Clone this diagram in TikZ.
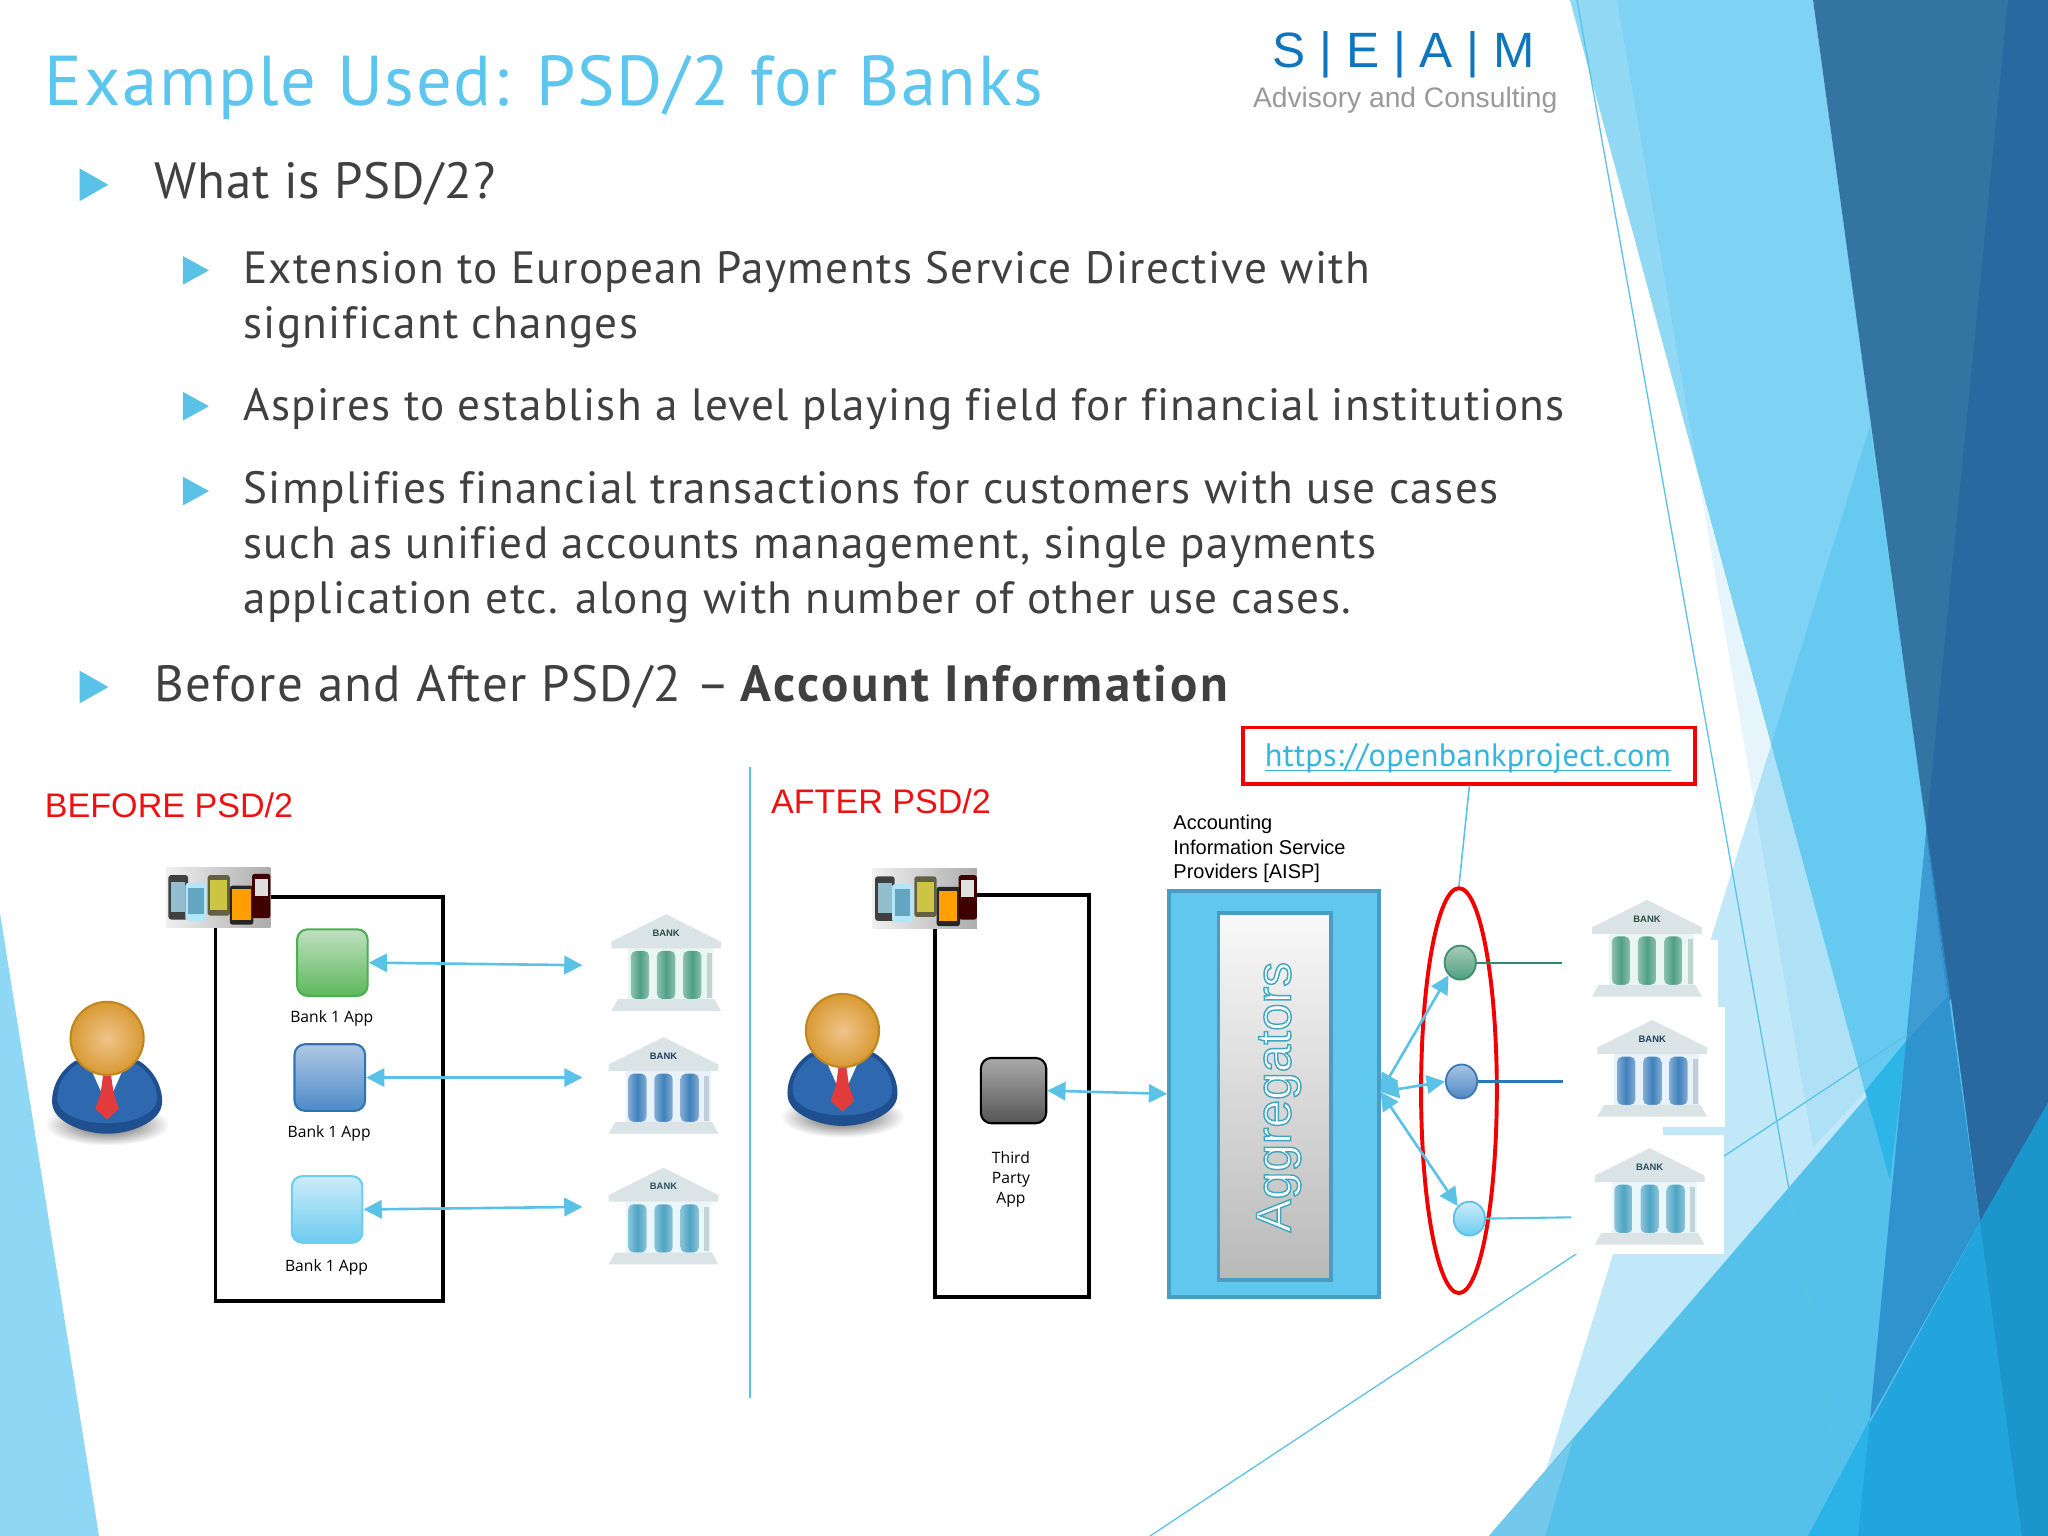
\documentclass[tikz,border=0pt]{standalone}
\usepackage{fontspec}
\usepackage{xcolor}
\usetikzlibrary{arrows.meta,shapes.geometric,calc}
\setmainfont[Ligatures=NoCommon]{PT Sans}
\newfontfamily\titlef[LetterSpace=2.5,Ligatures=NoCommon]{PT Sans}
\newfontfamily\bodyf[LetterSpace=2.95,Ligatures=NoCommon]{PT Sans}
\newfontfamily\headAf[LetterSpace=1.6,Ligatures=NoCommon]{PT Sans}
\newfontfamily\headBf[LetterSpace=2.6,Ligatures=NoCommon]{PT Sans}
\newfontfamily\headCf[LetterSpace=5.2,Ligatures=NoCommon]{PT Sans}
\newfontfamily\urlf[LetterSpace=0.9,Ligatures=NoCommon]{PT Sans}
\newfontfamily\arialf{Liberation Sans}
\newfontfamily\smallf{Open Sans}
\newcommand{\ulineurl}[1]{\setbox0=\hbox{#1}\rlap{\rule[-1.8pt]{\wd0}{0.6pt}}\box0 }
\definecolor{sky}{HTML}{5BC2E7}
\definecolor{titlec}{HTML}{5CC6EE}
\definecolor{bodygray}{HTML}{404040}
\definecolor{redc}{HTML}{EE1111}
\definecolor{logoblue}{HTML}{0F75BD}
\definecolor{bordteal}{HTML}{4A9CC0}
\definecolor{lightA}{HTML}{7ED2F3}
\definecolor{cornerL}{HTML}{8FD8F5}
\definecolor{darkA}{HTML}{3474A2}
\definecolor{darkB}{HTML}{2A69A0}
\definecolor{washB}{HTML}{2FB6E8}
\definecolor{botA}{HTML}{55C0EA}
\definecolor{botL}{HTML}{72C9EC}
\definecolor{brightA}{HTML}{2DB5E7}
\definecolor{midM}{HTML}{2F93CE}
\definecolor{midU}{HTML}{3F9BD3}
\definecolor{botC}{HTML}{22A5DC}
\definecolor{botD}{HTML}{2BB2E6}
\definecolor{botE}{HTML}{1B96CC}
\definecolor{urlc}{HTML}{35B5E0}
\definecolor{agfill}{HTML}{60C8EE}
\definecolor{bodyD}{HTML}{1F4F8F}
\definecolor{bodyM}{HTML}{2E68AE}
\definecolor{headO}{HTML}{D99A34}
\definecolor{headI}{HTML}{EFC48A}
\definecolor{headB}{HTML}{C0861F}
\definecolor{tiec}{HTML}{E23B3B}
\definecolor{bankGl}{HTML}{A8DCC8}
\definecolor{bankGd}{HTML}{4F9F84}
\definecolor{bankBl}{HTML}{A8CCEA}
\definecolor{bankBd}{HTML}{3F80BC}
\definecolor{bankTl}{HTML}{A8DCEC}
\definecolor{bankTd}{HTML}{4FA4C4}
\definecolor{roofc}{HTML}{DAE3E5}
\definecolor{appGb}{HTML}{4CAF50}
\definecolor{appGt}{HTML}{C0E0C0}
\definecolor{appGe}{HTML}{5CB85C}
\definecolor{appBb}{HTML}{2F75B5}
\definecolor{appBt}{HTML}{B0C8E4}
\definecolor{appBe}{HTML}{4D8AC8}
\definecolor{appLt}{HTML}{CDEBF9}
\definecolor{appLe}{HTML}{6CCCF0}
\definecolor{tpT}{HTML}{AAAAAA}
\definecolor{tpE}{HTML}{555555}
\definecolor{dotGb}{HTML}{3F8F6F}
\definecolor{dotGt}{HTML}{A8CCB8}
\definecolor{dotGe}{HTML}{4F9F80}
\definecolor{dotBb}{HTML}{3F78B8}
\definecolor{dotBt}{HTML}{A8C4E4}
\definecolor{dotBe}{HTML}{4F88C4}
\definecolor{lineG}{HTML}{2E8B6E}
\definecolor{lineB}{HTML}{2F76B5}
\tikzset{
  bigbullet/.style={fill=sky,draw=none},
  line1/.style={anchor=base west,text=bodygray,inner sep=0pt},
  line2/.style={anchor=base west,text=bodygray,inner sep=0pt,font=\bodyf\fontsize{17.3}{21}\selectfont},
  redlabel/.style={anchor=base west,text=redc,inner sep=0pt,font=\arialf\fontsize{13.05}{16}\selectfont},
  applabel/.style={align=center,inner sep=0pt,font=\smallf\fontsize{6}{8}\selectfont},
  frameb/.style={draw=black,line width=1.5pt,fill=none},
  conn/.style={draw=sky,line width=1pt,{Triangle[length=7pt,width=7pt]}-{Triangle[length=7pt,width=7pt]}},
  appbox/.style n args={3}{rounded corners=4pt,draw=#1,line width=0.8pt,top color=#2,bottom color=#3,minimum width=27pt,minimum height=25.5pt,inner sep=0pt},
  dotc/.style n args={3}{ellipse,draw=#1,line width=0.7pt,top color=#2,bottom color=#3,minimum width=12pt,minimum height=13pt,inner sep=0pt},
  pics/bank/.style n args={2}{code={
    \fill[#1!25!white] (-29,26) rectangle (36,66);
    \fill[roofc] (0,0) -- (42,21) -- (42,26) -- (-42,26) -- (-42,21) -- cycle;
    \node[inner sep=0pt,text=#2!50!black,font=\arialf\bfseries\fontsize{3.6}{4}\selectfont] at (0,14.5) {BANK};
    \foreach \cx in {-20,0,20}{
      \shade[left color=#2!65!white,right color=#2!65!white,middle color=#2,rounded corners=2pt] (\cx-7,28) rectangle (\cx+7,65);
    }
    \fill[#1!60!gray!60!white] (31,30) rectangle (35,64);
    \fill[roofc] (-37,65) -- (37,65) -- (42,74) -- (-42,74) -- cycle;
  }},
  pics/person/.style={code={
    \shade[inner color=black!70,outer color=white] (0,66) ellipse (48 and 16);
    \fill[bodyD] (-24,17) .. controls (-36,24) and (-43,38) .. (-42,50) .. controls (-41,64) and (-18,73) .. (0,73) .. controls (18,73) and (41,64) .. (42,50) .. controls (43,38) and (36,24) .. (24,17) -- cycle;
    \fill[bodyM] (-23,20) .. controls (-34,27) and (-39,38) .. (-38,48) .. controls (-36,59) and (-18,65) .. (0,65) .. controls (18,65) and (36,59) .. (38,48) .. controls (39,38) and (34,27) .. (23,20) -- cycle;
    \fill[white] (-13,22) -- (13,22) -- (5,40) -- (-5,40) -- cycle;
    \fill[tiec] (-3,28) -- (3,28) -- (5,42) -- (9,54) -- (0,62) -- (-9,54) -- (-5,42) -- cycle;
    \shade[inner color=headI,outer color=headO,draw=headB,line width=0.8pt] (0,0) circle (28);
  }},
  pics/phones/.style={code={
    \shade[left color=gray!12,right color=gray!65,draw=none] (0,0) rectangle (80,46);
    \fill[black!75,rounded corners=1pt] (2,6) rectangle (17,40);
    \fill[gray!55!cyan!70!white] (4,11) rectangle (15,34);
    \fill[cyan!30!white,rounded corners=1pt] (15,12) rectangle (31,41);
    \fill[cyan!50!gray] (17,16) rectangle (29,36);
    \fill[black!70!yellow,rounded corners=1pt] (32,6) rectangle (49,37);
    \fill[yellow!75!black!90!white] (34,10) rectangle (47,33);
    \fill[black!85,rounded corners=1pt] (49,14) rectangle (67,44);
    \fill[orange!75!yellow] (51,17) rectangle (65,40);
    \fill[black!75!red,rounded corners=1pt] (66,5) rectangle (80,39);
    \fill[gray!25] (68,9) rectangle (78,22);
  }},
}
\begin{document}
\begin{tikzpicture}[x=0.5pt,y=-0.5pt]
\useasboundingbox (0,0) rectangle (1568,1176);
\fill[white] (0,0) rectangle (1568,1176);
%---------- background (pixel coordinates of the 2048 wide slide)
\begin{scope}[scale=0.765625]
\fill[cornerL] (0,913) -- (99,1536) -- (0,1536) -- cycle;
\fill[lightA] (1570,0) -- (1813,0) -- (1981,1220) -- (1865,1092) -- cycle;
\fill[white,opacity=.15] (1570,0) -- (1617,0) -- (1699,480) -- cycle;
\fill[darkA] (1813,0) -- (2048,0) -- (2048,1103) -- (1980,1222) -- cycle;
\fill[darkB] (2008,0) -- (2048,0) -- (2048,1103) -- (1980,1222) -- (1926,833) -- cycle;
\fill[sky,opacity=.15] (1699,480) -- (1865,1092) -- (1813,1147) -- cycle;
\fill[washB,opacity=.3] (1870,426) -- (1951,999) -- (1540,1490) -- cycle;
\fill[botA] (1489,1536) -- (1951,999) -- (1980,1222) -- (1808,1536) -- cycle;
\fill[botL] (1489,1536) -- (1545,1536) -- (1573,1440) -- cycle;
\fill[brightA] (1865,1091) -- (1907,1040) -- (1890,1180) -- cycle;
\fill[midM] (1926,833) -- (1980,1222) -- (1870,1419) -- cycle;
\fill[midU] (1926,833) -- (1947,997) -- (1907,1040) -- cycle;
\fill[botC] (1808,1536) -- (1980,1222) -- (2048,1103) -- (2048,1536) -- cycle;
\fill[botD] (1808,1536) -- (1870,1419) -- (1858,1536) -- cycle;
\fill[botE] (1980,1222) -- (2048,1103) -- (2048,1536) -- (2022,1536) -- cycle;
\draw[sky,line width=0.5pt] (1577,0) -- (1840,1476);
\draw[sky,line width=0.5pt] (1150,1536) -- (1907,1035);
\fill[white] (1568,940) rectangle (1718,1007);
\fill[white] (1570,1007) rectangle (1725,1127);
\fill[white] (1570,1135) rectangle (1724,1254);
\fill[white] (1570,1127) rectangle (1663,1135);
\end{scope}
%---------- title + logo
\node[anchor=base west,inner sep=0pt,text=titlec,font=\titlef\fontsize{27}{30}\selectfont] (title) at (34,81) {Example Used: PSD/2 for Banks};
\node[anchor=base west,inner sep=0pt,text=logoblue,font=\arialf\fontsize{19}{22}\selectfont] (logo) at (974,52) {S | E | A | M};
\node[anchor=base west,inner sep=0pt,text=gray!80,font=\arialf\fontsize{10.8}{13}\selectfont] (logosub) at (959,82) {Advisory and Consulting};
%---------- bullets
\fill[bigbullet] (61,129) -- (83,141.5) -- (61,154) -- cycle;
\fill[bigbullet] (61,513.5) -- (83,526) -- (61,538.5) -- cycle;
\fill[bigbullet] (140,196) -- (160,207) -- (140,218) -- cycle;
\fill[bigbullet] (140,300) -- (160,311) -- (140,322) -- cycle;
\fill[bigbullet] (140,365) -- (160,376) -- (140,387) -- cycle;
\node[line1,font=\headAf\fontsize{19.5}{23}\selectfont] (t1) at (118,152) {What is PSD/2?};
\node[line2] (t2) at (186,217) {Extension to European Payments Service Directive with};
\node[line2] (t3) at (186,259) {significant changes};
\node[line2] (t4) at (186,322) {Aspires to establish a level playing field for financial institutions};
\node[line2] (t5) at (186,385.5) {Simplifies financial transactions for customers with use cases};
\node[line2] (t6) at (186,427.5) {such as unified accounts management, single payments};
\node[line2] (t7) at (186,469.5) {application etc. along with number of other use cases.};
\node[line1,font=\headBf\fontsize{19.5}{23}\selectfont] (t8) at (118,537) {Before and After PSD/2 –\hspace{-1.5pt} {\headCf\bfseries Account Information}};
%---------- divider
\coordinate (divtop) at (574,587);
\coordinate (divbot) at (574,1070);
\draw[sky,line width=0.8pt] (divtop) -- (divbot);
\node[redlabel] (before) at (34,626) {BEFORE PSD/2};
\node[redlabel] (after) at (590,623) {AFTER PSD/2};
%---------- left panel
\draw[frameb] (165,687) rectangle (339,996);
\pic at (127,664) {phones};
\pic at (82,795) {person};
\node[appbox={appGb}{appGt}{appGe}] (a1) at (254.5,737) {};
\node[appbox={appBb}{appBt}{appBe}] (a2) at (252.5,825) {};
\node[appbox={appLe}{appLt}{appLe}] (a3) at (250.5,926) {};
\node[applabel] (l1) at (254,780) {Bank 1 App};
\node[applabel] (l2) at (252,868) {Bank 1 App};
\node[applabel] (l3) at (250,970) {Bank 1 App};
\coordinate (b1in) at (446,739);
\coordinate (b2in) at (446,825);
\coordinate (b3in) at (446,924);
\pic at (510,700) {bank={bankGl}{bankGd}};
\pic at (508,794) {bank={bankBl}{bankBd}};
\pic at (508,894) {bank={bankTl}{bankTd}};
\draw[conn] (a1.east) -- (b1in);
\draw[conn] (a2.east) -- (b2in);
\draw[conn] (a3.east) -- (b3in);
%---------- right panel
\draw[frameb] (716,685) rectangle (834,993);
\pic at (668,665) {phones};
\pic at (645,789) {person};
\node[appbox={black}{tpT}{tpE},minimum width=25pt,minimum height=25pt] (tp) at (776,835) {};
\node[applabel,text width=30pt] (tpl) at (774,903) {Third\\[-0.4pt]Party\\[-0.4pt]App};
\node[draw=bordteal,line width=1.4pt,fill=agfill,minimum width=80.5pt,minimum height=155.5pt,inner sep=0pt] (aisp) at (975.5,837.5) {};
\node[draw=bordteal,line width=1.2pt,top color=white!95!gray,bottom color=gray!55,minimum width=43pt,minimum height=140.5pt,inner sep=0pt] (agg) at (976,839.5) {};
\node[rotate=90,inner sep=0pt,font=\arialf\fontsize{19}{22}\selectfont] (aggt) at (979,840) {\special{pdf:code q 0.25 0.65 0.75 RG 1 1 1 rg 2 Tr 0.55 w}Aggregators\special{pdf:code 0 Tr Q}};
\node[anchor=west,inner sep=0pt,align=left,font=\arialf\fontsize{7.65}{9.25}\selectfont] (aispl) at (898,650) {Accounting\\Information Service\\Providers [AISP]};
\draw[conn] (tp.east) -- (aisp.west);
%---------- url + ellipse
\node[draw=red!95!black,line width=1.5pt,fill=white,minimum width=173pt,minimum height=21.5pt,inner sep=0pt] (url) at (1125,578.5) {};
\node[anchor=base west,inner sep=0pt,text=urlc,font=\urlf\fontsize{12.4}{14}\selectfont] (urlt) at (968,587) {\ulineurl{https://openbankproject.com}};
\node[ellipse,draw=red!95!black,line width=1.5pt,minimum width=29pt,minimum height=155pt,inner sep=0pt] (oval) at (1117,835) {};
\draw[sky,line width=0.6pt] (url.south) -- (oval.north);
\node[dotc={dotGb}{dotGt}{dotGe}] (c1) at (1118,737) {};
\node[dotc={dotBb}{dotBt}{dotBe}] (c2) at (1119,828) {};
\node[dotc={sky}{appLt}{appLe}] (c3) at (1125,933) {};
\coordinate (c1end) at (1196,737);
\coordinate (c2end) at (1197,828);
\coordinate (c3end) at (1203,932);
\draw[lineG,line width=0.8pt] (c1.east) -- (c1end);
\draw[lineB,line width=0.8pt] (c2.east) -- (c2end);
\draw[sky,line width=0.8pt] (c3.east) -- (c3end);
\coordinate (agr) at (1057,836);
\draw[conn] (agr) -- (c1.south west);
\draw[conn] (agr) -- (c2.west);
\draw[conn] (agr) -- (c3.north west);
\pic at (1261,689) {bank={bankGl}{bankGd}};
\pic at (1265,781) {bank={bankBl}{bankBd}};
\pic at (1263,879) {bank={bankTl}{bankTd}};
\end{tikzpicture}
\end{document}
